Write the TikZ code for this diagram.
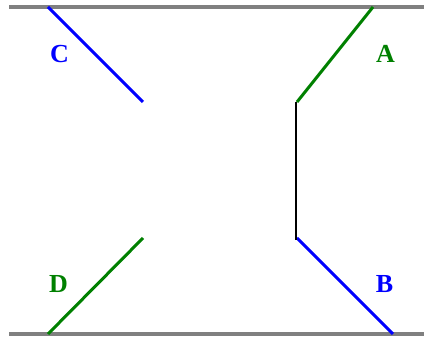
\documentclass[tikz,border=0pt]{standalone}
\usepackage{fontspec}
\setmainfont{Liberation Serif}
\definecolor{ptblue}{RGB}{0,0,255}
\definecolor{ptgreen}{RGB}{0,128,0}
\definecolor{ptgray}{RGB}{128,128,128}
\begin{document}
\begin{tikzpicture}[x=1pt, y=-1pt, line cap=butt,
    wall/.style={ptgray, line width=4pt},
    leg/.style={line width=3pt},
    lbl/.style={font=\fontsize{26}{26}\selectfont\bfseries, anchor=base, inner sep=0pt}]
  \useasboundingbox (0,0) rectangle (424,339);
  % Paredes
  \coordinate (wl1) at (9,7);
  \coordinate (wr1) at (424,7);
  \coordinate (wl2) at (9,334);
  \coordinate (wr2) at (424,334);
  \draw[wall] (wl1) -- (wr1);
  \draw[wall] (wl2) -- (wr2);
  % Extremos de las patas
  \coordinate (c0) at (48,7);
  \coordinate (c1) at (143,102);
  \coordinate (a0) at (373,7);
  \coordinate (a1) at (297,102);
  \coordinate (d0) at (143,238);
  \coordinate (d1) at (48,334);
  \coordinate (b0) at (297,238);
  \coordinate (b1) at (393,334);
  \coordinate (m0) at (296,102);
  \coordinate (m1) at (296,240);
  % Patas
  \draw[leg, ptblue] (c0) -- (c1);
  \draw[leg, ptgreen] (a0) -- (a1);
  \draw[leg, ptgreen] (d0) -- (d1);
  \draw[leg, ptblue] (b0) -- (b1);
  % Tramo central
  \draw[line width=1.6pt] (m0) -- (m1);
  % Etiquetas
  \node[lbl, ptblue] (lc) at (59.5,63) {C};
  \node[lbl, ptgreen] (la) at (385.5,63) {A};
  \node[lbl, ptgreen] (ld) at (58.5,293) {D};
  \node[lbl, ptblue] (lb) at (384.5,293) {B};
\end{tikzpicture}
\end{document}
